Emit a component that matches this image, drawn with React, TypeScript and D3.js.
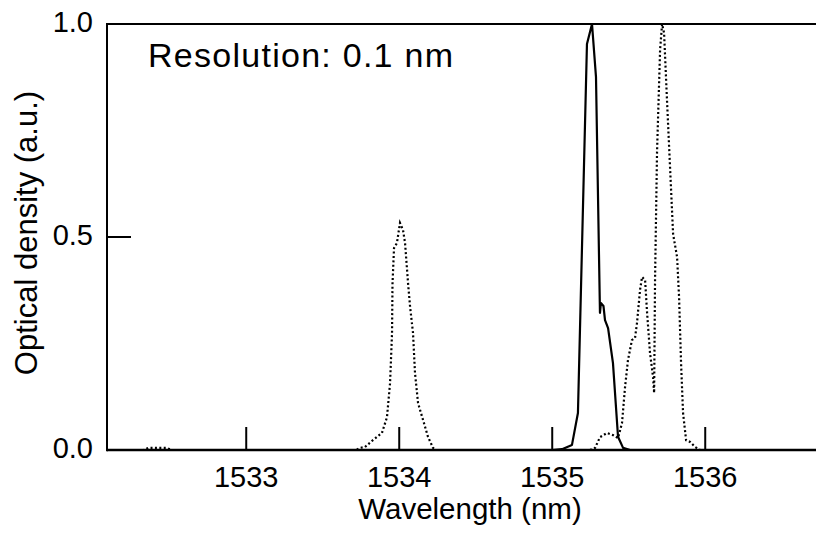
import React from "react";
import * as d3 from "d3";

// ---- data ----
const xTicks = [1533, 1534, 1535, 1536];
const yTicks = [0.0, 0.5, 1.0];
const yTickLabels = ["0.0", "0.5", "1.0"];

// solid series: wavelength (nm), optical density (a.u.)
const solidX = [1532.09, 1535.0, 1535.064, 1535.129, 1535.168, 1535.227, 1535.26, 1535.286, 1535.312, 1535.318, 1535.335, 1535.345, 1535.365, 1535.397, 1535.43, 1535.463, 1535.509, 1536.9];
const solidY = [0, 0, 0.002, 0.012, 0.087, 0.953, 1.0, 0.876, 0.322, 0.345, 0.338, 0.305, 0.286, 0.204, 0.031, 0.005, 0, 0];

// dotted series
const dottedX = [
  1532.09, 1532.33, 1532.36, 1532.48, 1532.51,
  1533.72, 1533.744, 1533.776, 1533.828, 1533.887, 1533.92, 1533.94, 1533.953, 1533.956, 1533.966, 1533.985, 1534.005, 1534.025, 1534.038, 1534.058, 1534.071, 1534.09, 1534.103, 1534.123, 1534.156, 1534.188, 1534.221, 1534.241,
  1535.247, 1535.28, 1535.312, 1535.358, 1535.397, 1535.43, 1535.456, 1535.476, 1535.495, 1535.521, 1535.541, 1535.554, 1535.574, 1535.587, 1535.607, 1535.62, 1535.639, 1535.659, 1535.666, 1535.672, 1535.685, 1535.705, 1535.718, 1535.731, 1535.75, 1535.77, 1535.79, 1535.816, 1535.829, 1535.842, 1535.855, 1535.875, 1535.901, 1535.934, 1535.966, 1536.9,
];
const dottedY = [
  0, 0, 0.005, 0.005, 0,
  0, 0.005, 0.007, 0.023, 0.04, 0.077, 0.157, 0.275, 0.39, 0.474, 0.486, 0.533, 0.516, 0.486, 0.39, 0.336, 0.275, 0.181, 0.11, 0.07, 0.031, 0.005, 0,
  0, 0.005, 0.03, 0.04, 0.035, 0.028, 0.063, 0.148, 0.211, 0.258, 0.263, 0.298, 0.376, 0.406, 0.399, 0.322, 0.228, 0.171, 0.134, 0.4, 0.7, 0.94, 1.0, 0.979, 0.822, 0.664, 0.507, 0.453, 0.359, 0.204, 0.087, 0.023, 0.019, 0.007, 0, 0,
];

const W = 816;
const H = 534;
const FONT = "'Liberation Sans', Arial, Helvetica, sans-serif";

export default function App() {
  const x = d3.scaleLinear().domain([1532.09, 1536.9]).range([107, 107 + 4.81 * 153]);
  const y = d3.scaleLinear().domain([0, 1]).range([450, 24]);

  const line = d3
    .line<[number, number]>()
    .x((d) => x(d[0]))
    .y((d) => y(d[1]));

  const solid = solidX.map((v, i) => [v, solidY[i]] as [number, number]);
  const dotted = dottedX.map((v, i) => [v, dottedY[i]] as [number, number]);

  const x0 = x.range()[0];
  const x1 = x.range()[1];

  return (
    <svg
      width={W}
      height={H}
      style={{ position: "absolute", left: 0, top: 0, display: "block", background: "#fff" }}
      fontFamily={FONT}
    >
      <rect x={0} y={0} width={W} height={H} fill="#fff" />
      {/* data */}
      <path d={line(dotted) || ""} fill="none" stroke="#000" strokeWidth={2.2} strokeDasharray="2 2.4" />
      <path d={line(solid) || ""} fill="none" stroke="#000" strokeWidth={2.2} strokeLinejoin="round" />

      {/* frame */}
      <line x1={x0} x2={x1} y1={y(0)} y2={y(0)} stroke="#000" strokeWidth={2.4} />
      <line x1={x0} x2={x1} y1={y(1)} y2={y(1)} stroke="#000" strokeWidth={2} />
      <line x1={x0} x2={x0} y1={y(1) - 1} y2={y(0) + 1.2} stroke="#000" strokeWidth={2} />

      {/* x ticks */}
      {xTicks.map((t) => (
        <g key={t}>
          <line x1={x(t)} x2={x(t)} y1={y(0)} y2={y(0) - 23} stroke="#000" strokeWidth={2} />
          <text x={x(t)} y={487} textAnchor="middle" fontSize={29} fill="#000">
            {t}
          </text>
        </g>
      ))}

      {/* y ticks */}
      {yTicks.map((t, i) => (
        <g key={t}>
          <line x1={x0} x2={x0 + 24} y1={y(t)} y2={y(t)} stroke="#000" strokeWidth={2} />
          <text x={93} y={y(t) + 8} textAnchor="end" fontSize={29} fill="#000">
            {yTickLabels[i]}
          </text>
        </g>
      ))}

      {/* axis titles */}
      <text x={470} y={519} textAnchor="middle" fontSize={29.5} fill="#000">
        Wavelength (nm)
      </text>
      <text
        transform={`translate(37,233) rotate(-90)`}
        textAnchor="middle"
        fontSize={31}
        fill="#000"
      >
        Optical density (a.u.)
      </text>

      {/* annotation */}
      <text x={148} y={67} fontSize={34} fill="#000" textLength={305} lengthAdjust="spacing">
        Resolution: 0.1 nm
      </text>
    </svg>
  );
}
